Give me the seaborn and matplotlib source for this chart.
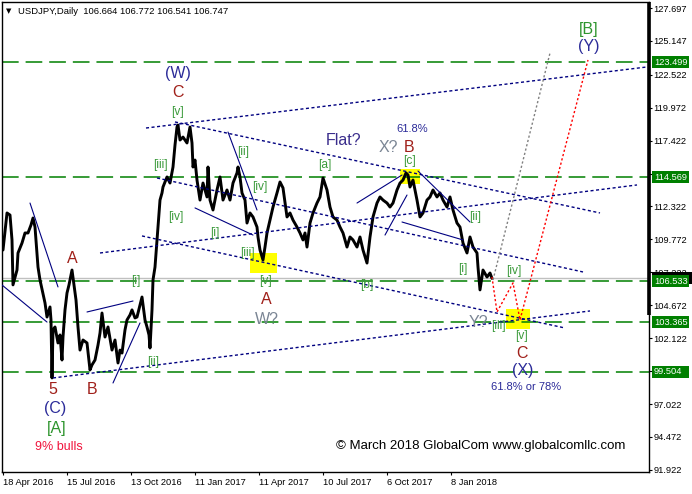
import matplotlib
matplotlib.use("Agg")
import matplotlib.pyplot as plt
import matplotlib.transforms as mtransforms
from matplotlib.patches import Rectangle
import seaborn as sns
import pandas as pd

# ---------------- data ----------------
bars = [0, 4, 7, 9, 10, 14, 15, 19, 22, 25, 28, 30, 32, 34, 35, 37, 42, 44, 47, 48,
        49, 50, 52, 55, 57, 59, 60, 62, 64, 66, 69, 71, 73, 75, 77, 80, 84, 87, 89, 92,
        95, 97, 99, 102, 105, 109, 112, 115, 117, 119, 122, 124, 127, 129, 132, 134, 137, 139, 142, 144,
        146, 147, 149, 150, 152, 155, 157, 159, 160, 164, 167, 170, 172, 174, 175, 177, 180, 184, 187, 189,
        190, 192, 194, 197, 200, 204, 205, 207, 210, 214, 217, 220, 224, 227, 230, 234, 235, 237, 239, 242,
        244, 247, 250, 254, 255, 257, 260, 262, 264, 267, 270, 274, 277, 280, 284, 287, 290, 294, 297, 300,
        302, 304, 307, 310, 314, 317, 320, 324, 327, 330, 334, 337, 340, 344, 347, 350, 354, 357, 360, 364,
        367, 370, 374, 377, 380, 384, 387, 390, 394, 397, 400, 403, 405, 407, 410, 414, 417, 420, 424, 427,
        430, 434, 437, 440, 444, 447, 450, 454, 457, 460, 464, 467, 470, 474, 475, 477, 480, 484, 487, 489]
close = [108.95, 111.82, 111.66, 109.73, 106.25, 107.40, 108.72, 109.49, 110.27, 110.27,
         110.89, 111.43, 110.73, 108.72, 107.63, 106.63, 104.85, 103.76, 104.54, 103.53,
         99.04, 102.76, 102.99, 101.75, 102.37, 100.43, 102.21, 104.31, 105.62, 106.25,
         107.40, 106.25, 105.08, 102.99, 101.20, 101.98, 101.75, 99.66, 100.05, 100.43,
         101.59, 102.52, 104.07, 102.21, 102.99, 101.20, 101.98, 100.20, 101.20, 100.97,
         102.76, 103.53, 103.92, 104.31, 103.69, 103.76, 104.69, 105.31, 103.53, 102.99,
         102.37, 101.36, 104.31, 106.63, 107.63, 110.73, 112.82, 113.37, 113.83, 114.61,
         114.14, 115.38, 117.08, 118.48, 118.63, 117.47, 117.70, 117.24, 118.48, 117.24,
         115.38, 115.92, 114.37, 112.82, 114.14, 113.06, 115.38, 112.82, 112.05, 113.60,
         114.61, 112.82, 113.60, 112.82, 114.14, 114.92, 115.38, 114.61, 113.37, 112.82,
         111.04, 111.82, 111.51, 110.73, 109.96, 108.95, 108.18, 109.18, 110.27, 111.27,
         112.28, 113.37, 114.22, 113.76, 111.51, 111.82, 111.27, 110.73, 110.27, 109.73,
         110.27, 109.18, 111.04, 111.82, 112.59, 113.06, 114.53, 113.60, 112.28, 111.51,
         111.27, 110.73, 110.27, 109.18, 109.96, 109.73, 109.18, 109.96, 108.95, 107.94,
         109.96, 111.51, 112.59, 113.06, 112.82, 112.59, 112.28, 112.59, 113.60, 114.14,
         114.37, 114.92, 114.76, 113.83, 114.37, 112.82, 111.51, 111.82, 112.82, 113.06,
         113.60, 113.06, 113.37, 112.82, 112.28, 113.06, 112.05, 111.04, 110.73, 109.49,
         108.72, 109.96, 109.18, 108.72, 107.63, 105.86, 107.40, 106.86, 107.17, 106.75]

date_ticks = [0, 64, 128, 192, 256, 320, 384, 448]
date_labels = ["18 Apr 2016", "15 Jul 2016", "13 Oct 2016", "11 Jan 2017",
               "11 Apr 2017", "10 Jul 2017", "6 Oct 2017", "8 Jan 2018"]
price_ticks = [127.697, 125.147, 122.522, 119.972, 117.422, 114.872, 112.322,
               109.772, 107.222, 104.672, 102.122, 99.572, 97.022, 94.472, 91.922]
level_values = [123.499, 114.569, 106.533, 103.365, 99.504]
last_price = 106.747
ohlc = [106.664, 106.772, 106.541, 106.747]

# trend lines (bar0, price0, bar1, price1)
dotted_lines = [(143, 118.40, 644, 123.13),
                (172, 118.87, 597, 111.82),
                (97, 108.72, 634, 113.99),
                (154, 114.53, 580, 107.25),
                (139, 110.04, 562, 102.91),
                (50, 99.04, 587, 104.23)]
solid_lines = [(-1, 106.24, 44, 103.37),
               (27, 112.59, 55, 106.09),
               (84, 104.15, 130, 105.00),
               (110, 98.65, 137, 103.30),
               (225, 118.09, 254, 112.05),
               (192, 112.21, 250, 110.11),
               (354, 112.59, 399, 114.76),
               (382, 110.11, 404, 113.21),
               (399, 111.12, 460, 109.73),
               (415, 115.07, 467, 111.12)]
red_path_bars = [489, 494, 510, 517, 585]
red_path_prices = [106.86, 104.15, 106.40, 103.53, 123.67]
gray_path_bars = [490, 547]
gray_path_prices = [106.63, 124.21]
yellow_boxes = [(247, 274, 107.17, 108.72),
                (397, 417, 114.06, 115.23),
                (503, 527, 102.83, 104.38)]

labels = [("(W)", 175, 122.66, "navy"), ("C", 175, 121.19, "red"), ("[v]", 175, 119.64, "sub"),
          ("[iii]", 157, 115.54, "sub"), ("[iv]", 173, 111.51, "sub"), ("[i]", 212, 110.27, "sub"),
          ("[ii]", 240, 116.54, "sub"), ("[iv]", 257, 113.83, "sub"), ("[iii]", 244, 108.72, "sub"),
          ("[v]", 263, 106.55, "sub"), ("A", 263, 105.08, "red"), ("W?", 264, 103.55, "gray"),
          ("[i]", 133, 106.55, "sub"), ("[ii]", 150, 100.28, "sub"), ("A", 69, 108.33, "red"),
          ("5", 50, 98.11, "red"), ("(C)", 52, 96.71, "navy"), ("[A]", 54, 95.09, "green"),
          ("9% bulls", 56, 93.69, "bulls"), ("B", 89, 98.11, "red"),
          ("Flat?", 341, 117.40, "flat"), ("61.8%", 409, 118.32, "pct"),
          ("X?", 385, 116.93, "gray"), ("B", 406, 116.93, "red"), ("[c]", 406, 115.85, "sub"),
          ("[a]", 322, 115.54, "sub"), ("[b]", 364, 106.24, "sub"), ("[ii]", 472, 111.51, "sub"),
          ("[i]", 460, 107.48, "sub"), ("[iv]", 511, 107.30, "sub"), ("Y?", 475, 103.37, "gray"),
          ("[iii]", 495, 103.07, "sub"), ("[v]", 519, 102.29, "sub"), ("C", 519, 100.97, "red"),
          ("(X)", 520, 99.58, "navy"), ("61.8% or 78%", 523, 98.34, "pct"),
          ("[B]", 586, 126.07, "green"), ("(Y)", 586, 124.68, "navy")]
copyright_text = "\u00a9 March 2018 GlobalCom www.globalcomllc.com"

styles = {"navy": dict(color="#2B2B99", fontsize=11.5),
          "red": dict(color="#A0201A", fontsize=11.5),
          "gray": dict(color="#7a8594", fontsize=11.5),
          "green": dict(color="#2E952E", fontsize=11.5),
          "sub": dict(color="#3A9A3A", fontsize=8.6),
          "bulls": dict(color="#F0143C", fontsize=9),
          "flat": dict(color="#3a2d8c", fontsize=11.5),
          "pct": dict(color="#2B2B99", fontsize=8)}

# ---------------- figure ----------------
sns.set_theme(style="white")
plt.rcParams["font.family"] = ["Liberation Sans", "DejaVu Sans"]
plt.rcParams["lines.scale_dashes"] = False

W, H = 692, 494
fig = plt.figure(figsize=(W / 100, H / 100), dpi=100)
fig.patch.set_facecolor("white")
ax = fig.add_axes([2 / W, 22 / H, 647 / W, 470 / H])
ax.set_facecolor("white")
ax.set_xlim(-1, 646)
ax.set_ylim(91.755, 128.162)

# yellow boxes
for b0, b1, p0, p1 in yellow_boxes:
    ax.add_patch(Rectangle((b0, p0), b1 - b0, p1 - p0, facecolor="#FFFF00",
                           edgecolor="none", zorder=1))

# horizontal levels
for v in level_values:
    ax.axhline(v, color="#008000", lw=1.1, dashes=(12, 5), zorder=2)
ax.axhline(last_price, color="#C0C0C0", lw=1.0, zorder=2)

# price
df = pd.DataFrame({"bar": bars, "close": close})
sns.lineplot(data=df, x="bar", y="close", ax=ax, color="black", lw=2.1,
             zorder=3, estimator=None, sort=False)

# trend lines
for b0, p0, b1, p1 in dotted_lines:
    ax.plot([b0, b1], [p0, p1], color="#000080", lw=1.0, dashes=(2.2, 1.8), zorder=4)
for b0, p0, b1, p1 in solid_lines:
    ax.plot([b0, b1], [p0, p1], color="#000080", lw=0.8, zorder=4)
ax.plot(red_path_bars, red_path_prices, color="#FF0000", lw=1.0, dashes=(1.6, 1.6), zorder=4)
ax.plot(gray_path_bars, gray_path_prices, color="#808080", lw=1.0, dashes=(1.6, 1.6), zorder=4)

# labels
for txt, b, p, st in labels:
    ax.text(b, p, txt, ha="center", va="center", zorder=6, **styles[st])
ax.text(478, 93.77, copyright_text, ha="center", va="center", fontsize=9.5,
        color="black", zorder=6)

# axes styling
for s in ax.spines.values():
    s.set_color("black")
    s.set_linewidth(1.0)
ax.set_xlabel("")
ax.set_ylabel("")
ax.set_xticks(date_ticks)
ax.set_xticklabels(date_labels, ha="left")
ax.set_yticks(price_ticks)
ax.set_yticklabels([f"{v:.3f}" for v in price_ticks])
ax.tick_params(axis="x", bottom=True, direction="out", length=2.5, width=0.8,
               labelsize=6.7, pad=1.5, colors="black")
ax.tick_params(axis="y", left=False, right=True, labelleft=False, labelright=True,
               direction="out", length=2.2, width=0.8, labelsize=6.7, pad=1.2, colors="black")
ax.grid(False)

# thick part of price scale
ax.vlines(646, 103.92, 128.162, colors="black", lw=2.6, clip_on=False, zorder=7)

# price labels on the right scale
trans = mtransforms.blended_transform_factory(ax.transAxes, ax.transData)
bx0 = (652 - 2) / 647
bw = 37 / 647
bh = 12 / 12.91
ax.add_patch(Rectangle((bx0, last_price - bh / 2), bw + 5 / 647, bh, transform=trans,
                       facecolor="black", edgecolor="none", clip_on=False, zorder=8))
for v in level_values:
    ax.add_patch(Rectangle((bx0, v - bh / 2), bw, bh, transform=trans,
                           facecolor="#008000", edgecolor="none", clip_on=False, zorder=9))
    ax.text((654 - 2) / 647, v, f"{v:.3f}", transform=trans, ha="left", va="center",
            fontsize=6.7, color="white", zorder=10, clip_on=False)

# header
fig.text(9 / W, 1 - 11 / H, "\u25bc", fontsize=5, ha="center", va="center",
         family=["DejaVu Sans"], color="black")
fig.text(18 / W, 1 - 11 / H,
         "USDJPY,Daily  " + " ".join(f"{v:.3f}" for v in ohlc),
         fontsize=6.8, ha="left", va="center", color="black")

fig.savefig("out.png", dpi=100, facecolor="white")
